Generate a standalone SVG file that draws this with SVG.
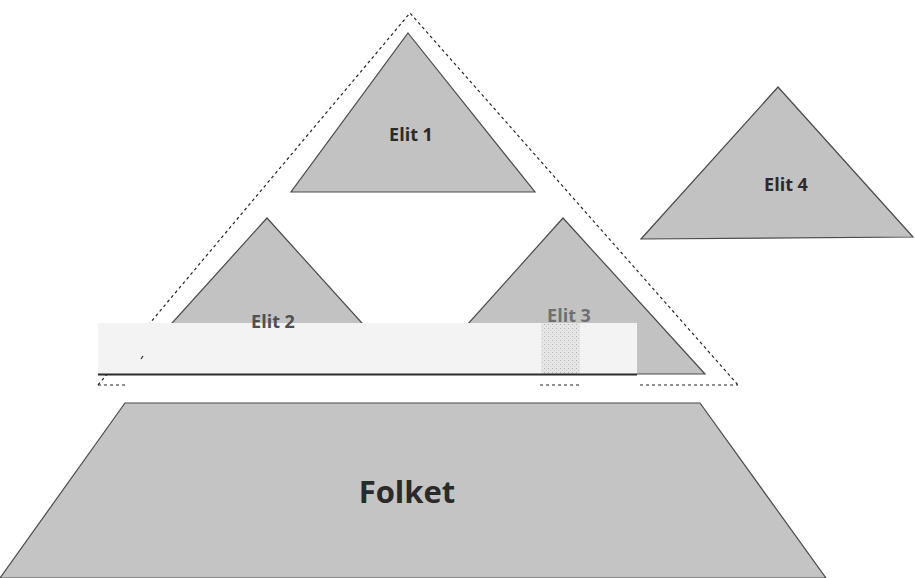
<svg xmlns="http://www.w3.org/2000/svg" width="915" height="578" viewBox="0 0 915 578">
<style>
.tri{fill:#c2c2c2;stroke:#4a4a4a;stroke-width:1.2;stroke-linejoin:miter}
.dash{fill:none;stroke:#222;stroke-width:1.2;stroke-dasharray:3 3}
.lbl{font-family:"Open Sans","Liberation Sans",sans-serif;font-weight:bold;fill:#2a2a2a;text-anchor:middle}
</style>
<defs>
<pattern id="speck" width="4" height="4" patternUnits="userSpaceOnUse">
<rect width="4" height="4" fill="#e6e6e6"/>
<rect x="0" y="0" width="1" height="1" fill="#b0b0b0"/>
<rect x="2" y="2" width="1" height="1" fill="#c8c8c8"/>
</pattern>
</defs>
<rect width="915" height="578" fill="#ffffff"/>
<g id="frame">
<path class="dash" d="M98,385 L410,13 L738,385"/>
<path class="dash" d="M98,385 H128 M540,385 H580 M640,385 H738"/>
</g>
<g id="folket">
<polygon class="tri" points="125,403 700,403 826,578 0,578" style="fill:#c4c4c4"/>
<text class="lbl" x="407" y="503" font-size="31">Folket</text>
</g>
<g id="elit1">
<polygon class="tri" points="408,33 535,192 291,192"/>
<text class="lbl" x="411" y="141" font-size="18">Elit 1</text>
</g>
<g id="elit4">
<polygon class="tri" points="778,87 913,237 641,239"/>
<text class="lbl" x="786" y="191" font-size="18">Elit 4</text>
</g>
<g id="elit2">
<polygon class="tri" points="267,218 408,374 126,374"/>
</g>
<g id="elit3">
<polygon class="tri" points="563,218 705,374 423,374"/>
</g>
<g id="cover">
<rect x="98" y="323" width="539" height="51" fill="#f3f3f3"/>
<rect x="541" y="323" width="39" height="51" fill="url(#speck)"/>
<line x1="98" y1="374.5" x2="637" y2="374.5" stroke="#2b2b2b" stroke-width="2"/>
<line x1="143" y1="356" x2="141" y2="359" stroke="#222" stroke-width="1.2"/>
</g>
<text class="lbl" x="273" y="328" font-size="18" style="fill:#505050">Elit 2</text>
<text class="lbl" x="569" y="322" font-size="18" style="fill:#707070">Elit 3</text>
</svg>
